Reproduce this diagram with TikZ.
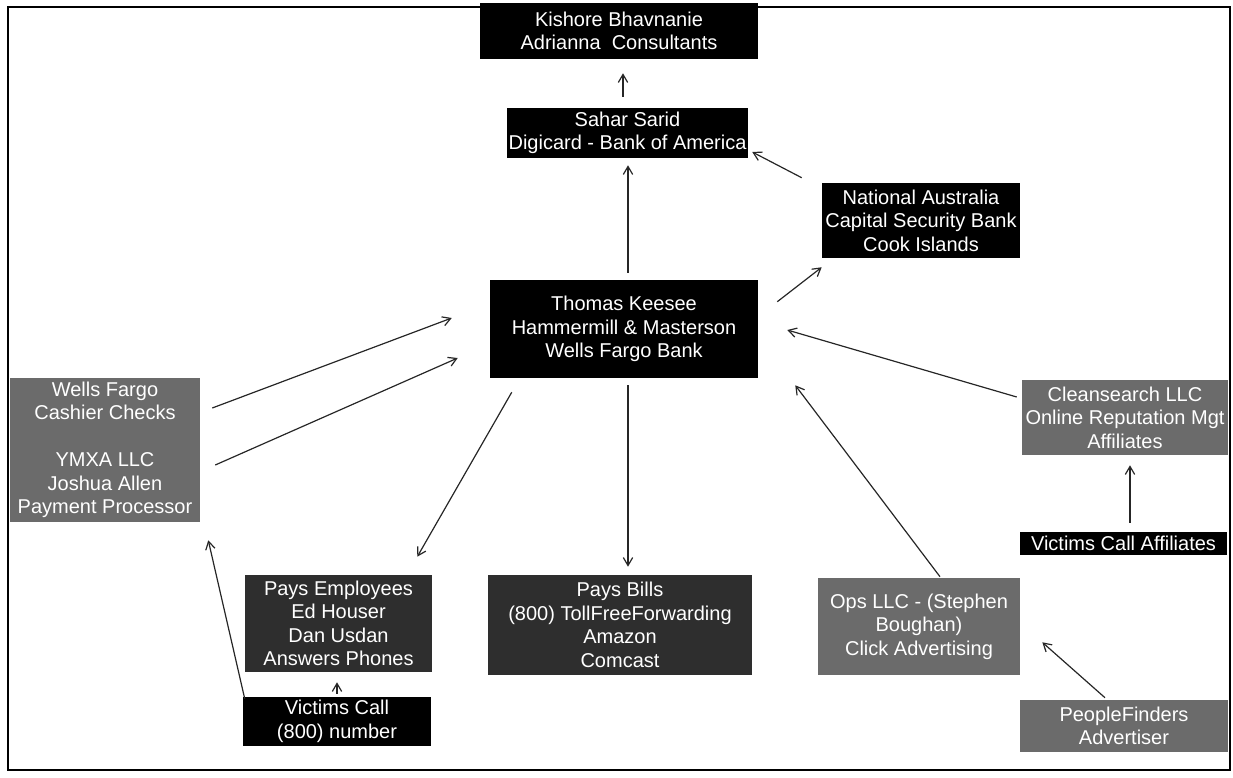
\documentclass[tikz,border=0pt]{standalone}
\usepackage{fontspec}
\setmainfont{Liberation Sans}
\usepackage{xcolor}
\usepackage{tikz}
\usetikzlibrary{shapes,arrows.meta,positioning}

\begin{document}
\begin{tikzpicture}[
        x=0.75pt, y=-0.75pt,
        blackbox/.style={fill=black, text=white, inner sep=0pt, align=center,
            font=\fontsize{15pt}{17.6pt}\selectfont},
        darkbox/.style={blackbox, fill=black!82},
        graybox/.style={blackbox, fill=black!58},
        arr/.style={line width=0.9pt, color=black!85,
            -{Straight Barb[length=6pt,width=7pt]}}
    ]
                \useasboundingbox (0,0) rectangle (1233,778);

                \draw[
                    line width=2pt
                ] (8,7) rectangle (1230,770);

                \node[blackbox, minimum width=208.5pt, minimum height=42pt]
                    (kishore) at (619,31) {Kishore Bhavnanie\\Adrianna\ \ Consultants};

                \node[blackbox, minimum width=180.75pt, minimum height=37.5pt]
                    (sahar) at (627.5,133) {Sahar Sarid\\Digicard - Bank of America};

                \node[blackbox, minimum width=148.5pt, minimum height=56.25pt]
                    (national) at (921,220.5) {National Australia\\Capital Security Bank\\Cook Islands};

                \node[blackbox, minimum width=201pt, minimum height=73.5pt]
                    (thomas) at (624,329) {Thomas Keesee\\Hammermill \& Masterson\\Wells Fargo Bank};

                \node[graybox, minimum width=142.5pt, minimum height=108pt]
                    (wells) at (105,450) {Wells Fargo\\Cashier Checks\\[17.6pt]YMXA LLC\\Joshua Allen\\Payment Processor};

                \node[graybox, minimum width=154.5pt, minimum height=56.25pt]
                    (cleansearch) at (1125,417.5) {Cleansearch LLC\\Online Reputation Mgt\\Affiliates};

                \node[blackbox, minimum width=155.25pt, minimum height=17.25pt]
                    (vaff) at (1123.5,543.5) {Victims Call Affiliates};

                \node[darkbox, minimum width=140.25pt, minimum height=72.75pt]
                    (payemp) at (338.5,623.5) {Pays Employees\\Ed Houser\\Dan Usdan\\Answers Phones};

                \node[darkbox, minimum width=198pt, minimum height=75pt]
                    (paybills) at (620,625) {Pays Bills\\(800) TollFreeForwarding\\Amazon\\Comcast};

                \node[graybox, minimum width=151.5pt, minimum height=72.75pt]
                    (ops) at (919,626.5) {Ops LLC - (Stephen\\Boughan)\\Click Advertising};

                \node[blackbox, minimum width=141pt, minimum height=36.75pt]
                    (vcall) at (337,721.5) {Victims Call\\(800) number};

                \node[graybox, minimum width=156pt, minimum height=39pt]
                    (people) at (1124,726) {PeopleFinders\\Advertiser};

                \draw[arr] ([shift={(-4.5,-11)}]sahar.north) -- ([shift={(4,14)}]kishore.south);
                \draw[arr] ([shift={(4,-7)}]thomas.north) -- ([shift={(0.5,7)}]sahar.south);
                \draw[arr] ([shift={(-20,-5)}]national.north west) -- ([shift={(4,19)}]sahar.east);
                \draw[arr] ([shift={(19,22)}]thomas.north east) -- ([shift={(0,9)}]national.south west);
                \draw[arr] ([shift={(-5,-20.5)}]cleansearch.west) -- ([shift={(29,1)}]thomas.east);
                \draw[arr] ([shift={(21,-1)}]ops.north) -- ([shift={(37,7)}]thomas.south east);
                \draw[arr] ([shift={(-19,-2)}]people.north) -- ([shift={(22,-33)}]ops.south east);
                \draw[arr] ([shift={(6.5,-9)}]vaff.north) -- ([shift={(5,10)}]cleansearch.south);
                \draw[arr] ([shift={(12,-42)}]wells.east) -- ([shift={(-38,-11)}]thomas.west);
                \draw[arr] ([shift={(15,15)}]wells.east) -- ([shift={(-32,29)}]thomas.west);
                \draw[arr] ([shift={(22,14)}]thomas.south west) -- ([shift={(-15,-18)}]payemp.north east);
                \draw[arr] ([shift={(4,7)}]thomas.south) -- ([shift={(8,-8)}]paybills.north);
                \draw[arr] ([shift={(0,-3)}]vcall.north) -- ([shift={(-1.5,10)}]payemp.south);
                \draw[arr] ([shift={(2,2)}]vcall.north west) -- ([shift={(8,18)}]wells.south east);

            \end{tikzpicture}
\end{document}
